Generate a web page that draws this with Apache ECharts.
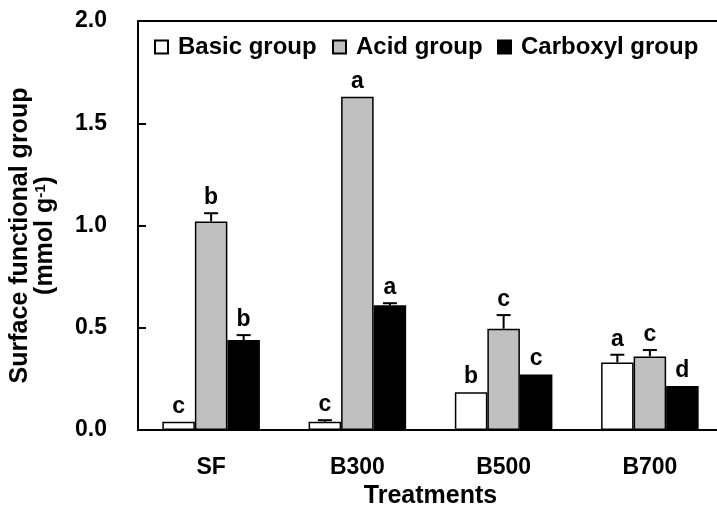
<!DOCTYPE html>
<html>
<head>
<meta charset="utf-8">
<script src="https://cdn.jsdelivr.net/npm/echarts@6/dist/echarts.min.js"></script>
<style>html,body{margin:0;padding:0;background:#fff;}#c{width:717px;height:512px;}</style>
</head>
<body>
<div id="c"></div>
<script>
const categories = ['SF', 'B300', 'B500', 'B700'];
const seriesNames = ['Basic group', 'Acid group', 'Carboxyl group'];
const basicValues = [0.04, 0.04, 0.185, 0.33];
const acidValues = [1.02, 1.63, 0.495, 0.36];
const carboxylValues = [0.44, 0.61, 0.272, 0.215];
const basicErrors = [0, 0.008, 0, 0.038];
const acidErrors = [0.04, 0, 0.067, 0.031];
const carboxylErrors = [0.024, 0.01, 0, 0];
const basicLetters = ['c', 'c', 'b', 'a'];
const acidLetters = ['b', 'a', 'c', 'c'];
const carboxylLetters = ['b', 'a', 'c', 'd'];
const yTicks = [0, 0.5, 1.0, 1.5, 2.0];

const values = [basicValues, acidValues, carboxylValues];
const errors = [basicErrors, acidErrors, carboxylErrors];
const letters = [basicLetters, acidLetters, carboxylLetters];
const colors = ['#ffffff', '#c0c0c0', '#000000'];
const FONT = 'Liberation Sans, Arial, sans-serif';
const catGap = 0.333;

const chart = echarts.init(document.getElementById('c'));

const barSeries = seriesNames.map((n, s) => ({
  name: n,
  type: 'bar',
  data: values[s],
  barGap: '0%',
  barCategoryGap: (catGap * 100) + '%',
  itemStyle: { color: colors[s], borderColor: '#000', borderWidth: 1.5 },
  emphasis: { disabled: true },
  z: 2
}));

const errSeries = seriesNames.map((n, s) => ({
  type: 'custom',
  silent: true,
  z: 3,
  clip: false,
  data: categories.map((c, i) => [i, values[s][i], errors[s][i]]),
  encode: { x: 0, y: 1 },
  renderItem: function (params, api) {
    const ci = api.value(0), v = api.value(1), e = api.value(2);
    const band = api.size([1, 0])[0];
    const bw = band * (1 - catGap) / 3;
    const p0 = api.coord([ci, v]);
    const p1 = api.coord([ci, v + e]);
    const x = p0[0] + (s - 1) * bw;
    const children = [];
    if (e > 0) {
      children.push({ type: 'line', shape: { x1: x, y1: p0[1], x2: x, y2: p1[1] }, style: { stroke: '#000', lineWidth: 2 } });
      children.push({ type: 'line', shape: { x1: x - 7, y1: p1[1], x2: x + 7, y2: p1[1] }, style: { stroke: '#000', lineWidth: 2 } });
    }
    children.push({
      type: 'text',
      x: x, y: p1[1] - 4,
      style: { text: letters[s][params.dataIndex], fill: '#000', font: 'bold 23px ' + FONT, align: 'center', verticalAlign: 'bottom' }
    });
    return { type: 'group', children: children };
  }
}));

const legendLefts = [149, 327, 492];
const legends = seriesNames.map((n, s) => ({
  data: [n],
  left: legendLefts[s],
  top: 30,
  itemWidth: 13,
  itemHeight: 13,
  icon: 'rect',
  selectedMode: false,
  textStyle: { fontSize: 24, fontWeight: 'bold', fontFamily: FONT, color: '#000', padding: [0, 0, 0, 5] }
}));

const labelStyle = { fontWeight: 'bold', fontFamily: FONT, color: '#000' };

chart.setOption({
  animation: false,
  backgroundColor: '#fff',
  legend: legends,
  grid: { left: 138, top: 21, width: 585, height: 409, show: false, containLabel: false, outerBoundsMode: 'none' },
  xAxis: [{
    type: 'category',
    data: categories,
    name: 'Treatments',
    nameLocation: 'middle',
    nameGap: 42,
    nameTextStyle: Object.assign({ fontSize: 25 }, labelStyle),
    axisLine: { lineStyle: { color: '#000', width: 2 } },
    axisTick: { show: false },
    axisLabel: Object.assign({ fontSize: 23, margin: 26 }, labelStyle)
  }, {
    type: 'category',
    data: categories,
    position: 'top',
    axisLine: { show: true, lineStyle: { color: '#000', width: 2 } },
    axisTick: { show: false },
    axisLabel: { show: false }
  }],
  yAxis: {
    type: 'value',
    min: yTicks[0],
    max: yTicks[yTicks.length - 1],
    interval: 0.5,
    name: 'Surface functional group\n(mmol g{sup|-1})',
    nameLocation: 'middle',
    nameGap: 80,
    nameTextStyle: Object.assign({
      fontSize: 25, lineHeight: 25, padding: [0, 20, 0, 0],
      rich: { sup: { fontSize: 15, fontWeight: 'bold', fontFamily: FONT, color: '#000', verticalAlign: 'top', lineHeight: 25, padding: [0, 0, 8, 0] } }
    }, labelStyle),
    splitLine: { show: false },
    axisLine: { show: true, lineStyle: { color: '#000', width: 2 } },
    axisTick: { show: true, inside: true, length: 8, lineStyle: { color: '#000', width: 2 } },
    axisLabel: Object.assign({ fontSize: 23, margin: 31, formatter: v => v.toFixed(1) }, labelStyle)
  },
  series: barSeries.concat(errSeries)
});
</script>
</body>
</html>
